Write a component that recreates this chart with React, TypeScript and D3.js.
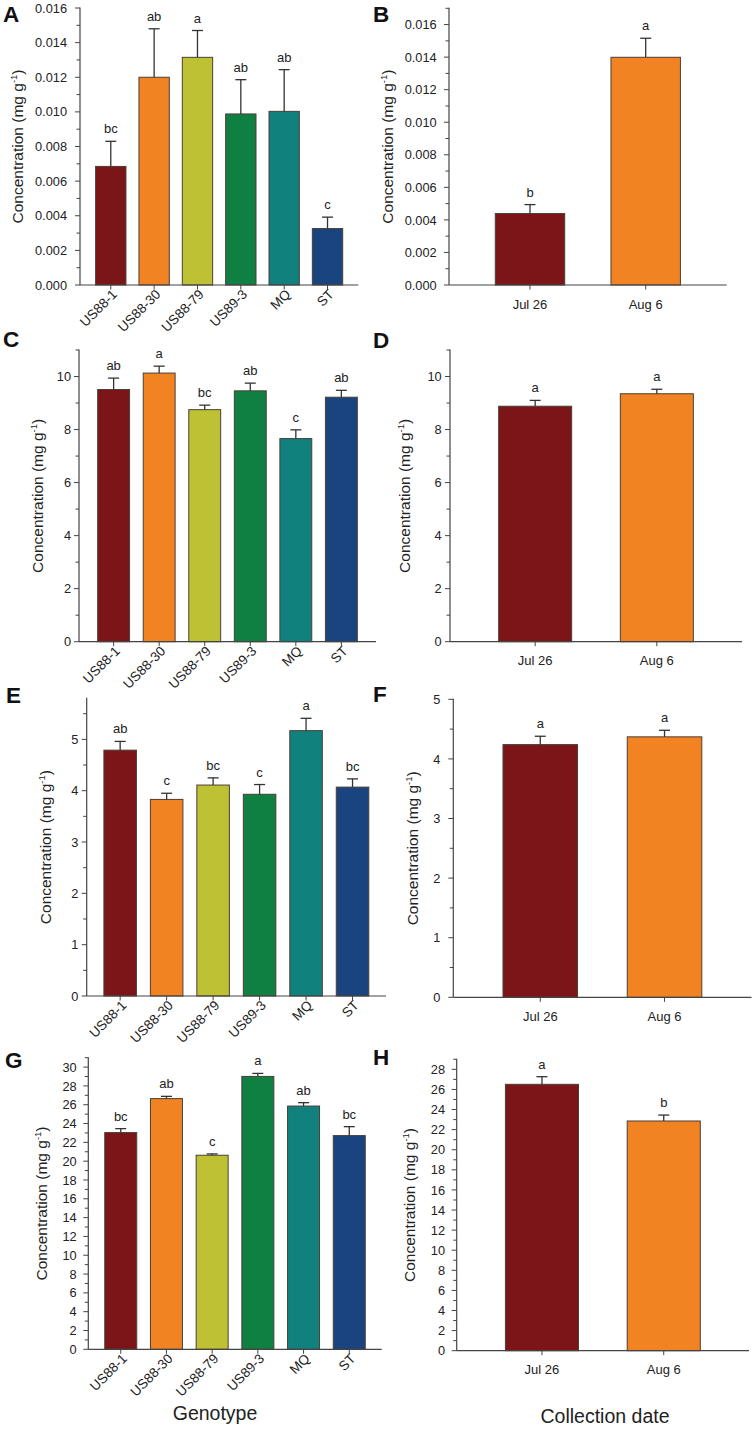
import React from "react";
import * as d3 from "d3";

const genotypes = ["US88-1", "US88-30", "US88-79", "US89-3", "MQ", "ST"];
const dates = ["Jul 26", "Aug 6"];
const genoColors = ["#7b1518", "#f28323", "#bec133", "#108042", "#11817e", "#1a447f"];
const dateColors = ["#7b1518", "#f28323"];

const meansA = [0.00685, 0.012, 0.01315, 0.00988, 0.01003, 0.00326];
const errA = [0.00145, 0.0028, 0.00155, 0.00198, 0.00241, 0.00066];
const lettersA = ["bc", "ab", "a", "ab", "ab", "c"];

const meansB = [0.00439, 0.01399];
const errB = [0.00055, 0.00117];
const lettersB = ["b", "a"];

const meansC = [9.51, 10.13, 8.75, 9.46, 7.66, 9.22];
const errC = [0.43, 0.26, 0.17, 0.29, 0.33, 0.26];
const lettersC = ["ab", "a", "bc", "ab", "c", "ab"];

const meansD = [8.88, 9.35];
const errD = [0.22, 0.17];
const lettersD = ["a", "a"];

const meansE = [4.79, 3.83, 4.11, 3.93, 5.17, 4.07];
const errE = [0.17, 0.12, 0.14, 0.19, 0.24, 0.16];
const lettersE = ["ab", "c", "bc", "c", "a", "bc"];

const meansF = [4.24, 4.37];
const errF = [0.14, 0.11];
const lettersF = ["a", "a"];

const meansG = [23.04, 26.65, 20.63, 29.01, 25.86, 22.72];
const errG = [0.42, 0.24, 0.14, 0.32, 0.36, 0.95];
const lettersG = ["bc", "ab", "c", "a", "ab", "bc"];

const meansH = [26.51, 22.86];
const errH = [0.76, 0.59];
const lettersH = ["a", "b"];

const FONT = "'Liberation Sans', Arial, Helvetica, sans-serif";
const AXIS = "#444";

type PanelSpec = {
  letter: string;
  letterX: number;
  letterY: number;
  cats: string[];
  colors: string[];
  means: number[];
  errs: number[];
  letters: string[];
  x0: number;
  x1: number;
  y0: number;
  yTop: number;
  yMax: number;
  major: number;
  decimals: number;
  pInner: number;
  pOuter: number;
  labelX: number;
  tickGap: number;
  rotated: boolean;
};

const panels: PanelSpec[] = [
  { letter: "A", letterX: 3, letterY: 22, cats: genotypes, colors: genoColors, means: meansA, errs: errA, letters: lettersA,
    x0: 80, x1: 358.3, y0: 285, yTop: 8, yMax: 0.016, major: 0.002, decimals: 3, pInner: 0.3, pOuter: 0.36, labelX: 18, tickGap: 13, rotated: true },
  { letter: "B", letterX: 373, letterY: 22, cats: dates, colors: dateColors, means: meansB, errs: errB, letters: lettersB,
    x0: 449, x1: 726.7, y0: 285, yTop: 8.3, yMax: 0.017, major: 0.002, decimals: 3, pInner: 0.4, pOuter: 0.4, labelX: 387.5, tickGap: 12.3, rotated: false },
  { letter: "C", letterX: 3, letterY: 347, cats: genotypes, colors: genoColors, means: meansC, errs: errC, letters: lettersC,
    x0: 79, x1: 376, y0: 641.7, yTop: 350, yMax: 11, major: 2, decimals: 0, pInner: 0.3, pOuter: 0.41, labelX: 37.5, tickGap: 8, rotated: true },
  { letter: "D", letterX: 373, letterY: 348, cats: dates, colors: dateColors, means: meansD, errs: errD, letters: lettersD,
    x0: 450, x1: 742, y0: 641.7, yTop: 350, yMax: 11, major: 2, decimals: 0, pInner: 0.4, pOuter: 0.4, labelX: 405, tickGap: 8.3, rotated: false },
  { letter: "E", letterX: 6, letterY: 703, cats: genotypes, colors: genoColors, means: meansE, errs: errE, letters: lettersE,
    x0: 86.7, x1: 386, y0: 996, yTop: 698.3, yMax: 5.8, major: 1, decimals: 0, pInner: 0.3, pOuter: 0.37, labelX: 45.5, tickGap: 8.4, rotated: true },
  { letter: "F", letterX: 373, letterY: 702, cats: dates, colors: dateColors, means: meansF, errs: errF, letters: lettersF,
    x0: 453.3, x1: 751.5, y0: 997.3, yTop: 699.3, yMax: 5, major: 1, decimals: 0, pInner: 0.4, pOuter: 0.4, labelX: 412.5, tickGap: 13, rotated: false },
  { letter: "G", letterX: 5, letterY: 1068, cats: genotypes, colors: genoColors, means: meansG, errs: errG, letters: lettersG,
    x0: 88.3, x1: 381.7, y0: 1349.3, yTop: 1057.7, yMax: 31, major: 2, decimals: 0, pInner: 0.3, pOuter: 0.36, labelX: 42, tickGap: 11.6, rotated: true },
  { letter: "H", letterX: 373, letterY: 1065, cats: dates, colors: dateColors, means: meansH, errs: errH, letters: lettersH,
    x0: 456.7, x1: 749, y0: 1350.7, yTop: 1059.3, yMax: 29, major: 2, decimals: 0, pInner: 0.4, pOuter: 0.4, labelX: 409.5, tickGap: 11.7, rotated: false },
];

function Panel({ p }: { p: PanelSpec }) {
  const x = d3.scaleBand<string>().domain(p.cats).range([p.x0, p.x1]).paddingInner(p.pInner).paddingOuter(p.pOuter);
  const y = d3.scaleLinear().domain([0, p.yMax]).range([p.y0, p.yTop]);
  const minor = p.major / 2;
  const nMinor = Math.floor(p.yMax / minor + 1e-6);
  const ticks = d3.range(0, nMinor + 1).map((i) => i * minor);
  const bw = x.bandwidth();
  const mid = (p.y0 + p.yTop) / 2;
  return (
    <g>
      <text x={p.letterX} y={p.letterY} fontFamily={FONT} fontWeight="bold" fontSize={22.5} fill="#111">{p.letter}</text>
      {p.cats.map((c, i) => {
        const bx = x(c)!;
        const top = y(p.means[i]);
        const et = y(p.means[i] + p.errs[i]);
        const cx = bx + bw / 2;
        return (
          <g key={c}>
            <rect x={bx} y={top} width={bw} height={p.y0 - top} fill={p.colors[i]} stroke="#4a3f36" strokeWidth={1} />
            <line x1={cx} x2={cx} y1={top} y2={et} stroke="#333" strokeWidth={1.3} />
            <line x1={cx - 5.5} x2={cx + 5.5} y1={et} y2={et} stroke="#333" strokeWidth={1.3} />
            <text x={cx} y={et - 8} textAnchor="middle" fontFamily={FONT} fontSize={13} fill="#222">{p.letters[i]}</text>
          </g>
        );
      })}
      {/* y axis */}
      <line x1={p.x0} x2={p.x0} y1={p.y0} y2={p.yTop - 0.5} stroke={AXIS} strokeWidth={1.2} />
      {ticks.map((t, i) => {
        const isMajor = i % 2 === 0;
        const ty = y(t);
        return (
          <g key={i}>
            <line x1={p.x0 - (isMajor ? 5 : 3.5)} x2={p.x0} y1={ty} y2={ty} stroke={AXIS} strokeWidth={1} />
            {isMajor && (
              <text x={p.x0 - p.tickGap} y={ty} dy="0.36em" textAnchor="end" fontFamily={FONT} fontSize={12.8} fill="#222">
                {t.toFixed(p.decimals)}
              </text>
            )}
          </g>
        );
      })}
      {/* x axis */}
      <line x1={p.x0} x2={p.x1} y1={p.y0} y2={p.y0} stroke={AXIS} strokeWidth={1.2} />
      {p.cats.map((c) => {
        const cx = x(c)! + bw / 2;
        return (
          <g key={"t" + c}>
            <line x1={cx} x2={cx} y1={p.y0} y2={p.y0 + 4.5} stroke={AXIS} strokeWidth={1} />
            {p.rotated ? (
              <text transform={`translate(${cx},${p.y0 + 3})rotate(-45)`} dy="0.75em" textAnchor="end" fontFamily={FONT} fontSize={13.5} fill="#222">{c}</text>
            ) : (
              <text x={cx} y={p.y0 + 23.5} textAnchor="middle" fontFamily={FONT} fontSize={13} fill="#222">{c}</text>
            )}
          </g>
        );
      })}
      <text transform={`translate(${p.labelX + 5},${mid}) rotate(-90)`} textAnchor="middle" fontFamily={FONT} fontSize={15.5} fill="#222">
        Concentration (mg g<tspan dy="-6" fontSize={9.5}>-1</tspan><tspan dy="6">)</tspan>
      </text>
    </g>
  );
}

export default function App() {
  return (
    <svg width={756} height={1431} style={{ position: "absolute", left: 0, top: 0, background: "#fff" }}>
      <rect x={0} y={0} width={756} height={1431} fill="#fff" />
      {panels.map((p) => (
        <Panel key={p.letter} p={p} />
      ))}
      <text x={215} y={1420} textAnchor="middle" fontFamily={FONT} fontSize={19.5} fill="#222">Genotype</text>
      <text x={605} y={1423} textAnchor="middle" fontFamily={FONT} fontSize={19.5} fill="#222">Collection date</text>
    </svg>
  );
}
